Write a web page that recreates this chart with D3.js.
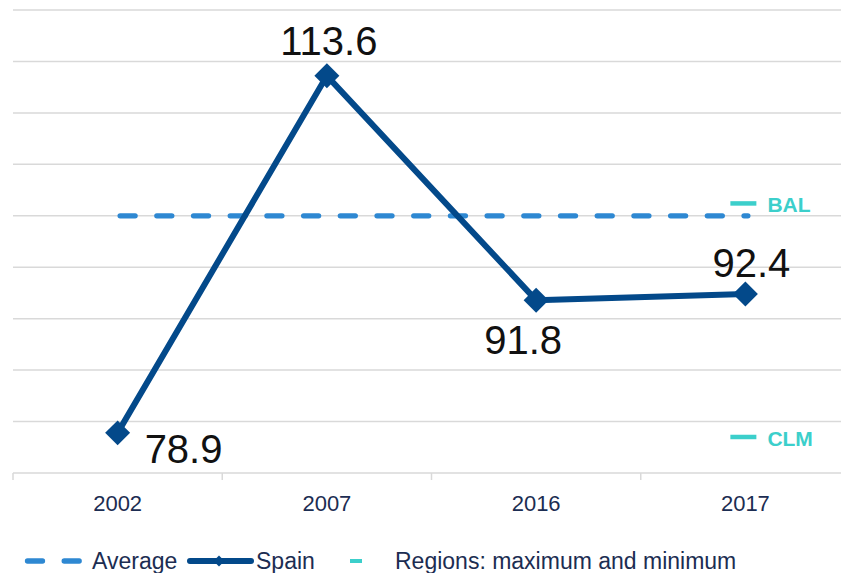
<!DOCTYPE html>
<html>
<head>
<meta charset="utf-8">
<script src="https://cdn.jsdelivr.net/npm/d3@7"></script>
<style>
  html, body { margin: 0; padding: 0; background: #fff; }
  svg { display: block; font-family: "Liberation Sans", Arial, sans-serif; }
</style>
</head>
<body>
<svg id="chart" width="841" height="573"></svg>
<script>
// ---- data ----
const years = ["2002", "2007", "2016", "2017"];
const spainValues = [78.9, 113.6, 91.8, 92.4];
const averageValues = [100, 100, 100, 100];
const regionCodes = ["BAL", "CLM"];
const regionValues = [101.2, 78.5];
const yTickValues = [75, 80, 85, 90, 95, 100, 105, 110, 115, 120];
const legendLabels = ["Average", "Spain", "Regions: maximum and minimum"];

// ---- style / layout ----
const labelPlacement = [
  { dx: 27, dy: 30, anchor: "start" },
  { dx: 2, dy: -21, anchor: "middle" },
  { dx: -13, dy: 54, anchor: "middle" },
  { dx: 6, dy: -17, anchor: "middle" }
];
const colors = { spain: "#03498a", average: "#2e88d2", region: "#3ccfcb", grid: "#d9d9d9", text: "#1c2d52", label: "#111" };

const svg = d3.select("#chart");
const x = d3.scaleBand().domain(years).range([13, 850]).paddingInner(0).paddingOuter(0);
const y = d3.scaleLinear().domain([75, 120]).range([473, 10]);
const cx = d => x(d) + x.bandwidth() / 2;

// gridlines
svg.append("g").selectAll("line").data(yTickValues).join("line")
  .attr("x1", 13).attr("x2", 841)
  .attr("y1", d => y(d)).attr("y2", d => y(d))
  .attr("stroke", colors.grid).attr("stroke-width", 1.5);

// x axis
const xAxis = svg.append("g").attr("transform", `translate(0,${y(75)})`)
  .call(d3.axisBottom(x).tickSize(0).tickPadding(0));
xAxis.select(".domain").remove();
xAxis.selectAll("text").attr("font-size", 22).attr("fill", colors.text)
  .attr("dy", null).attr("y", 38)
  .attr("font-family", "Liberation Sans, Arial, sans-serif");
// tick marks at band boundaries
svg.append("g").selectAll("line").data(years).join("line")
  .attr("x1", d => x(d)).attr("x2", d => x(d))
  .attr("y1", y(75)).attr("y2", y(75) + 7)
  .attr("stroke", colors.grid).attr("stroke-width", 1.5);

// average dashed line
const avgLine = d3.line().x((d, i) => cx(years[i])).y(d => y(d));
svg.append("path").datum(averageValues)
  .attr("d", avgLine).attr("fill", "none")
  .attr("stroke", colors.average).attr("stroke-width", 5.3)
  .attr("stroke-linecap", "round").attr("stroke-dasharray", "15,21.7")
  .attr("transform", "translate(2.5,0)");

// region max/min markers
const lastYear = years[years.length - 1];
const reg = svg.append("g").selectAll("g").data(regionValues).join("g")
  .attr("transform", d => `translate(${cx(lastYear) - 2},${y(d)})`);
reg.append("line").attr("x1", -13).attr("x2", 13)
  .attr("stroke", colors.region).attr("stroke-width", 4.5);
reg.append("text").text((d, i) => regionCodes[i])
  .attr("x", 24).attr("y", 9)
  .attr("font-size", 21).attr("font-weight", "bold").attr("fill", colors.region);

// Spain line
const spainLine = d3.line().x((d, i) => cx(years[i])).y(d => y(d));
svg.append("path").datum(spainValues)
  .attr("d", spainLine).attr("fill", "none")
  .attr("stroke", colors.spain).attr("stroke-width", 6)
  .attr("stroke-linejoin", "round");

const diamond = d3.symbol().type(d3.symbolSquare).size(312);
svg.append("g").selectAll("path").data(spainValues).join("path")
  .attr("d", diamond)
  .attr("transform", (d, i) => `translate(${cx(years[i])},${y(d)}) rotate(45)`)
  .attr("fill", colors.spain);

// value labels
svg.append("g").selectAll("text").data(spainValues).join("text")
  .text(d => d.toFixed(1))
  .attr("x", (d, i) => cx(years[i]) + labelPlacement[i].dx)
  .attr("y", (d, i) => y(d) + labelPlacement[i].dy)
  .attr("text-anchor", (d, i) => labelPlacement[i].anchor)
  .attr("font-size", 40).attr("fill", colors.label);

// legend
const lg = svg.append("g").attr("transform", "translate(0,561)");
lg.append("line").attr("x1", 25).attr("x2", 84)
  .attr("stroke", colors.average).attr("stroke-width", 5.3)
  .attr("stroke-linecap", "round").attr("stroke-dasharray", "15,21.7")
  .attr("transform", "translate(2.5,0)");
lg.append("text").text(legendLabels[0]).attr("x", 92).attr("y", 8)
  .attr("font-size", 23).attr("fill", colors.text);
lg.append("line").attr("x1", 190).attr("x2", 251)
  .attr("stroke", colors.spain).attr("stroke-width", 6).attr("stroke-linecap", "round");
lg.append("path").attr("d", d3.symbol().type(d3.symbolSquare).size(60))
  .attr("transform", "translate(219,0) rotate(45)").attr("fill", colors.spain);
lg.append("text").text(legendLabels[1]).attr("x", 256).attr("y", 8)
  .attr("font-size", 23).attr("fill", colors.text);
lg.append("line").attr("x1", 350).attr("x2", 362)
  .attr("stroke", colors.region).attr("stroke-width", 4);
lg.append("text").text(legendLabels[2]).attr("x", 395).attr("y", 8)
  .attr("font-size", 23).attr("fill", colors.text);
</script>
</body>
</html>
